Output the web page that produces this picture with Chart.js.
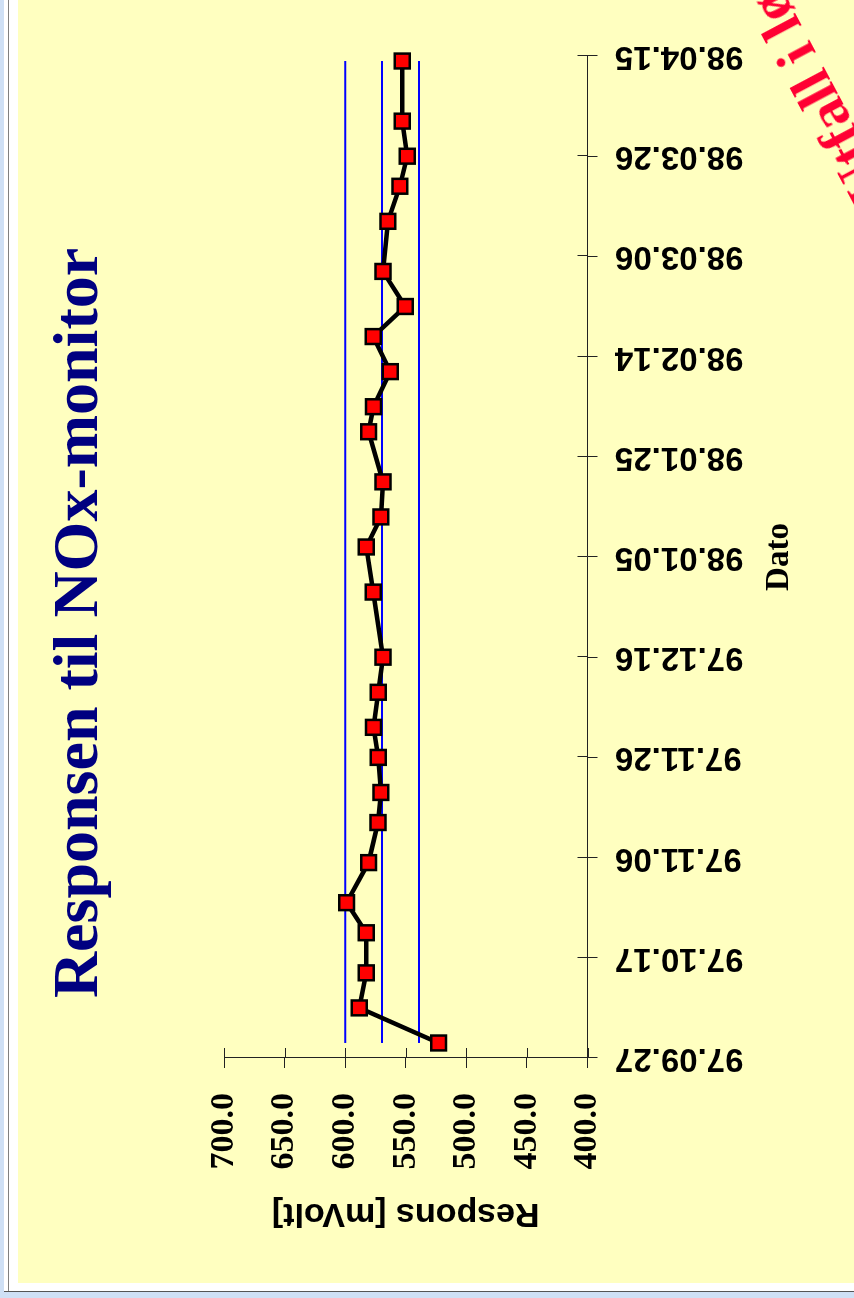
<!DOCTYPE html>
<html>
<head>
<meta charset="utf-8">
<script src="https://cdn.jsdelivr.net/npm/chart.js@4.4.1/dist/chart.umd.min.js"></script>
<style>
html,body{margin:0;padding:0;width:854px;height:1298px;overflow:hidden;background:#cfe0f5;position:relative;}
#panel{position:absolute;left:4px;top:0;width:850px;height:1291px;background:#ffffff;border-bottom:1px solid #555;}
#vline{position:absolute;left:8px;top:0;width:1px;height:1291px;background:#808080;}
#plot{position:absolute;left:18px;top:0;width:836px;height:1283px;background:#ffffc0;overflow:hidden;}
#rot{position:absolute;left:0;top:0;width:1283px;height:836px;transform-origin:0 0;transform:translate(0,1283px) rotate(-90deg);}
#stamp{position:absolute;left:873px;top:171px;height:58px;line-height:58px;white-space:nowrap;
  font-family:'Liberation Serif','Times New Roman',serif;font-weight:bold;font-size:58px;color:#ff0033;
  transform-origin:0 50%;transform:rotate(-118deg);}
</style>
</head>
<body>
<div id="panel"></div>
<div id="vline"></div>
<div id="plot"><div id="rot"><canvas id="c" width="1283" height="836"></canvas></div></div>
<div id="stamp">Utfall i løpet</div>
<script>
// ---- data ----
const titleText = 'Responsen til NOx-monitor';
const xTitle = 'Dato';
const yTitle = 'Respons [mVolt]';
const dates = ['97.09.30','97.10.07','97.10.14','97.10.22','97.10.28','97.11.05','97.11.13','97.11.19',
  '97.11.26','97.12.02','97.12.09','97.12.16','97.12.29','98.01.07','98.01.13','98.01.20','98.01.30',
  '98.02.04','98.02.11','98.02.18','98.02.24','98.03.03','98.03.13','98.03.20','98.03.26','98.04.02','98.04.14'];
const values = [522.9,588.4,582.6,582.6,598.8,580.7,572.9,570.5,
  572.7,576.6,572.7,568.8,576.8,582.6,570.5,568.8,580.7,
  576.6,562.8,576.8,550.4,568.8,564.7,554.8,548.8,552.9,552.9];
const upperLimit = 600;
const meanLine = 569.5;
const lowerLimit = 539;
const dateAxisStart = '97.09.27';
const dateAxisEnd = '98.04.15';
const dateStepDays = 20;
const valueMin = 400, valueMax = 700, valueStep = 50;

// ---- helpers ----
function toUTC(s){ const p = s.split('.').map(Number); return Date.UTC(1900 + p[0], p[1] - 1, p[2]); }
const BASE = toUTC(dateAxisStart);
function dayOf(s){ return Math.round((toUTC(s) - BASE) / 864e5); }
function fmt(d){
  const t = new Date(BASE + d * 864e5);
  const two = n => String(n).padStart(2, '0');
  return two(t.getUTCFullYear() % 100) + '.' + two(t.getUTCMonth() + 1) + '.' + two(t.getUTCDate());
}
const firstDay = dayOf(dates[0]);
const lastDay = dayOf(dates[dates.length - 1]);
const AXIS = '#222';

const innerTicks = {
  id: 'innerTicks',
  afterDatasetsDraw(chart){
    const {ctx, chartArea, scales} = chart;
    const x = scales.x, y = scales.y;
    ctx.save();
    ctx.strokeStyle = AXIS; ctx.lineWidth = 1;
    ctx.beginPath();
    x.ticks.forEach(t => { const px = Math.round(x.getPixelForValue(t.value)) + 0.5; ctx.moveTo(px, chartArea.bottom - 10); ctx.lineTo(px, chartArea.bottom); });
    y.ticks.forEach(t => { const py = Math.round(y.getPixelForValue(t.value)) + 0.5; ctx.moveTo(chartArea.left, py); ctx.lineTo(chartArea.left + 10, py); });
    ctx.stroke();
    ctx.restore();
  }
};

const serif = "'Liberation Serif','Times New Roman',serif";
const sans = "'Liberation Sans',Arial,sans-serif";

new Chart(document.getElementById('c'), {
  type: 'line',
  data: {
    datasets: [
      { label: 'Respons', data: dates.map((d, i) => ({x: dayOf(d), y: values[i]})),
        borderColor: '#000', borderWidth: 4.5, tension: 0, order: 0, clip: false,
        pointStyle: 'rect', pointRadius: 10.5, pointBackgroundColor: '#ff0000',
        pointBorderColor: '#000', pointBorderWidth: 2.5 },
      { label: 'Øvre', data: [{x: firstDay, y: upperLimit}, {x: lastDay, y: upperLimit}],
        borderColor: '#0000ff', borderWidth: 2, pointRadius: 0, order: 1 },
      { label: 'Middel', data: [{x: firstDay, y: meanLine}, {x: lastDay, y: meanLine}],
        borderColor: '#0000ff', borderWidth: 2, pointRadius: 0, order: 1 },
      { label: 'Nedre', data: [{x: firstDay, y: lowerLimit}, {x: lastDay, y: lowerLimit}],
        borderColor: '#0000ff', borderWidth: 2, pointRadius: 0, order: 1 }
    ]
  },
  options: {
    responsive: false, animation: false, devicePixelRatio: 1,
    layout: { padding: { left: 93, right: 56, top: 0, bottom: 0 } },
    plugins: {
      legend: { display: false },
      tooltip: { enabled: false },
      title: { display: true, text: titleText, color: '#000080',
        font: { family: serif, size: 64, weight: 'bold', lineHeight: 1 },
        padding: { top: 30.4, bottom: 111.6 } }
    },
    scales: {
      x: {
        type: 'linear', min: 0, max: dayOf(dateAxisEnd),
        grid: { drawOnChartArea: false, drawTicks: true, tickLength: 10, color: AXIS },
        border: { color: AXIS, width: 1 },
        ticks: { stepSize: dateStepDays, autoSkip: false, minRotation: 90, maxRotation: 90,
          padding: 17.5, color: '#000', font: { family: sans, size: 33, weight: 'bold' },
          callback: v => fmt(v) },
        title: { display: true, text: xTitle, color: '#000',
          font: { family: serif, size: 33, weight: 'bold', lineHeight: 1.2 },
          padding: { top: 0, bottom: 55.2 } },
        afterFit(s){ s.height = 266.5; s.paddingLeft = 0; s.paddingRight = 0; }
      },
      y: {
        min: valueMin, max: valueMax,
        grid: { drawOnChartArea: false, drawTicks: true, tickLength: 10, color: AXIS },
        border: { color: AXIS, width: 1 },
        ticks: { stepSize: valueStep, padding: 25, color: '#000',
          font: { family: serif, size: 34, weight: 'bold' },
          callback: v => Number(v).toFixed(1) },
        title: { display: true, text: yTitle, color: '#000',
          font: { family: sans, size: 34, weight: 'bold', lineHeight: 1.2 },
          padding: { top: -43.4, bottom: 0 } },
        afterFit(s){ s.width = 132; s.paddingTop = 0; s.paddingBottom = 0; }
      }
    }
  },
  plugins: [innerTicks]
});
</script>
</body>
</html>
